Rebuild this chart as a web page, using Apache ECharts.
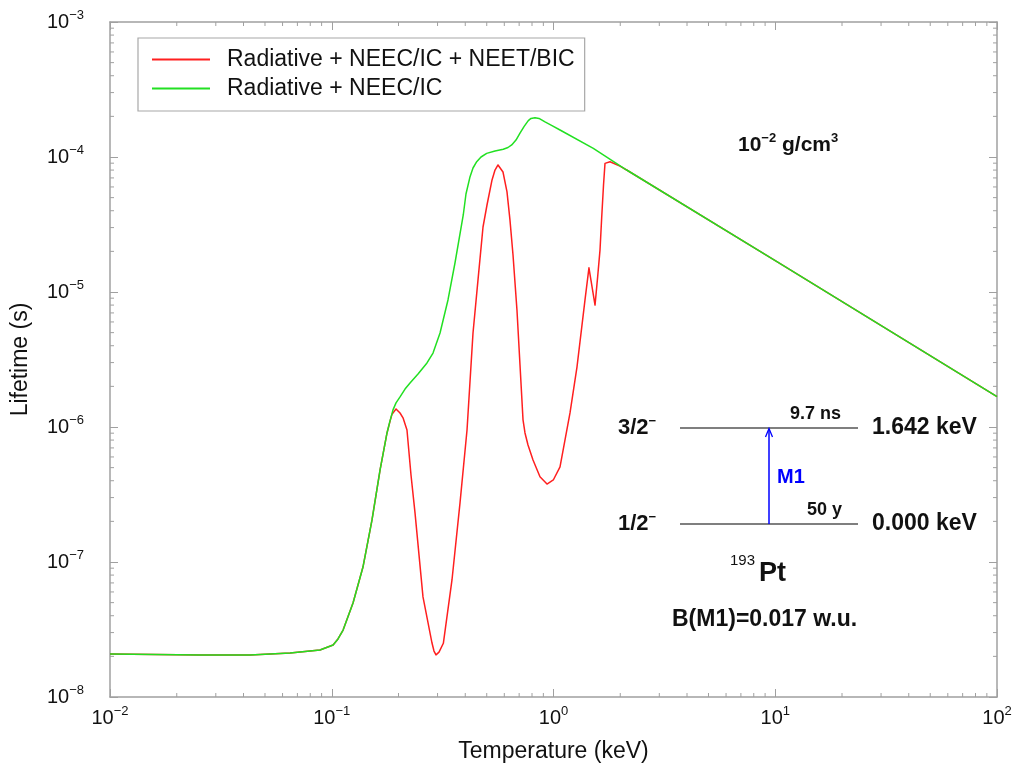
<!DOCTYPE html>
<html>
<head>
<meta charset="utf-8">
<title>193Pt lifetime vs temperature</title>
<script src="https://cdn.jsdelivr.net/npm/echarts@6/dist/echarts.min.js"></script>
<style>
  html, body { margin: 0; padding: 0; background: #fff; }
  #chart { width: 1014px; height: 767px; }
</style>
</head>
<body>
<div id="chart"></div>
<script>
// Lifetime of the 193Pt isomer at 10^-2 g/cm^3, radiative + NEEC/IC channels
const temperatureGreen = [
  0.01, 0.0255, 0.0428, 0.0649, 0.0885, 0.1014, 0.1067, 0.1125, 0.1247, 0.1383,
  0.1519, 0.1651, 0.1775, 0.1831, 0.1889, 0.1949, 0.2032, 0.2140, 0.2254, 0.2449,
  0.2688, 0.2862, 0.3078, 0.3343, 0.3595, 0.3918, 0.4030, 0.4204, 0.4335, 0.4505,
  0.4711, 0.4997, 0.5448, 0.5937, 0.6234, 0.6479, 0.6773, 0.7062, 0.7362, 0.7697,
  0.7915, 0.8253, 0.8603, 0.9157, 0.9845, 1.070, 1.512, 2.138, 10, 100
];
const lifetimeGreen = [
  2.08e-8, 2.05e-8, 2.05e-8, 2.12e-8, 2.23e-8, 2.43e-8, 2.69e-8, 3.13e-8, 4.97e-8, 9.18e-8,
  2.05e-7, 4.80e-7, 9.03e-7, 1.11e-6, 1.34e-6, 1.51e-6, 1.67e-6, 1.91e-6, 2.12e-6, 2.47e-6,
  2.98e-6, 3.53e-6, 4.97e-6, 8.73e-6, 1.64e-5, 3.72e-5, 5.32e-5, 7.15e-5, 8.29e-5, 9.23e-5,
  1.0e-4, 1.064e-4, 1.108e-4, 1.14e-4, 1.176e-4, 1.228e-4, 1.336e-4, 1.50e-4, 1.68e-4, 1.86e-4,
  1.93e-4, 1.955e-4, 1.93e-4, 1.82e-4, 1.71e-4, 1.585e-4, 1.159e-4, 8.01e-5, 1.71e-5, 1.68e-6
];

// Same, with the NEET/BIC channel added
const temperatureRed = [
  0.01, 0.0255, 0.0428, 0.0649, 0.0885, 0.1014, 0.1067, 0.1125, 0.1247, 0.1383,
  0.1519, 0.1651, 0.1775, 0.1831, 0.1869, 0.1949, 0.2032, 0.2096, 0.2184, 0.2277,
  0.2374, 0.2579, 0.2832, 0.2891, 0.2952, 0.3046, 0.3186, 0.3485, 0.3788, 0.4074,
  0.4335, 0.4566, 0.4810, 0.5013, 0.5282, 0.5448, 0.5620, 0.5737, 0.5919, 0.617,
  0.6364, 0.6568, 0.6843, 0.7062, 0.7287, 0.7438, 0.7674, 0.8084, 0.869, 0.9348,
  0.998, 1.070, 1.187, 1.276, 1.387, 1.445, 1.491, 1.539, 1.582, 1.621,
  1.649, 1.681, 1.707, 1.798, 1.994, 2.138, 10, 100
];
const lifetimeRed = [
  2.08e-8, 2.05e-8, 2.05e-8, 2.12e-8, 2.23e-8, 2.43e-8, 2.69e-8, 3.13e-8, 4.97e-8, 9.18e-8,
  2.05e-7, 4.80e-7, 9.03e-7, 1.10e-6, 1.24e-6, 1.36e-6, 1.27e-6, 1.17e-6, 9.5e-7, 4.41e-7,
  2.31e-7, 5.51e-8, 2.51e-8, 2.19e-8, 2.05e-8, 2.15e-8, 2.50e-8, 7.36e-8, 2.74e-7, 9.5e-7,
  4.97e-6, 1.23e-5, 3.03e-5, 4.41e-5, 6.76e-5, 8.01e-5, 8.73e-5, 8.57e-5, 7.74e-5, 5.51e-5,
  3.41e-5, 1.88e-5, 7.36e-6, 2.88e-6, 1.13e-6, 9.03e-7, 7.36e-7, 5.70e-7, 4.28e-7, 3.78e-7,
  4.05e-7, 5.06e-7, 1.27e-6, 2.78e-6, 8.73e-6, 1.51e-5, 1.10e-5, 8.0e-6, 1.30e-5, 2.05e-5,
  3.53e-5, 6.21e-5, 8.97e-5, 9.23e-5, 8.55e-5, 8.01e-5, 1.71e-5, 1.68e-6
];

const seriesNames = ['Radiative + NEEC/IC + NEET/BIC', 'Radiative + NEEC/IC'];
const seriesColors = ['#ff1f1f', '#22e022'];

const X_MIN = 1e-2, X_MAX = 1e2;
const Y_MIN = 1e-8, Y_MAX = 1e-3;
const FONT = "'Liberation Sans', Arial, Helvetica, sans-serif";
const FRAME = '#a0a0a0';

function zip(xs, ys) { return xs.map((x, i) => [x, ys[i]]); }

// minor tick values 2..9 within every decade of an axis range
function minorValues(lo, hi) {
  const out = [];
  for (let e = Math.round(Math.log10(lo)); e < Math.round(Math.log10(hi)); e++) {
    for (let k = 2; k <= 9; k++) out.push(k * Math.pow(10, e));
  }
  return out;
}

function powerLabel(v) {
  const e = Math.round(Math.log10(v));
  const exp = e < 0 ? '\u2212' + (-e) : String(e);
  return '{b|10}{e|' + exp + '}';
}

const labelRich = {
  b: { fontFamily: FONT, fontSize: 20, color: '#111' },
  e: { fontFamily: FONT, fontSize: 13, color: '#111', padding: [0, 0, 13, 0] }
};

const tickStyle = { stroke: FRAME, lineWidth: 1 };

function minorTickX(params, api) {
  const v = api.value(0);
  const b = api.coord([v, Y_MIN]);
  const t = api.coord([v, Y_MAX]);
  return {
    type: 'group',
    children: [
      { type: 'line', shape: { x1: b[0], y1: b[1], x2: b[0], y2: b[1] - 4 }, style: tickStyle },
      { type: 'line', shape: { x1: t[0], y1: t[1], x2: t[0], y2: t[1] + 4 }, style: tickStyle }
    ]
  };
}
function minorTickY(params, api) {
  const v = api.value(1);
  const l = api.coord([X_MIN, v]);
  const r = api.coord([X_MAX, v]);
  return {
    type: 'group',
    children: [
      { type: 'line', shape: { x1: l[0], y1: l[1], x2: l[0] + 4, y2: l[1] }, style: tickStyle },
      { type: 'line', shape: { x1: r[0], y1: r[1], x2: r[0] - 4, y2: r[1] }, style: tickStyle }
    ]
  };
}

function logAxis(extra) {
  return Object.assign({
    type: 'log',
    logBase: 10,
    axisLine: { show: true, onZero: false, lineStyle: { color: FRAME, width: 1.5 } },
    axisTick: { show: true, inside: true, length: 8, lineStyle: { color: FRAME, width: 1 } },
    minorTick: { show: false },
    splitLine: { show: false },
    minorSplitLine: { show: false }
  }, extra);
}

const boldText = (text, x, y, size, color) => ({
  type: 'text', x: x, y: y, silent: true,
  style: {
    text: text, fill: color || '#111', align: 'left', verticalAlign: 'middle',
    fontFamily: FONT, fontSize: size, fontWeight: 'bold'
  }
});

const supRich = (size) => ({
  t: { fontFamily: FONT, fontSize: size, fontWeight: 'bold', fill: '#111', color: '#111' },
  s: { fontFamily: FONT, fontSize: 13, fontWeight: 'bold', fill: '#111', color: '#111', padding: [0, 0, 14, 0] }
});

const richText = (text, x, y, size) => ({
  type: 'text', x: x, y: y, silent: true,
  style: {
    text: text, align: 'left', verticalAlign: 'middle',
    fontFamily: FONT, fontSize: size, fontWeight: 'bold', fill: '#111',
    rich: supRich(size)
  }
});

const levelLine = (y) => ({
  type: 'line', silent: true,
  shape: { x1: 680, y1: y, x2: 858, y2: y },
  style: { stroke: '#555', lineWidth: 1.5 }
});

const chart = echarts.init(document.getElementById('chart'), null, { renderer: 'canvas' });

chart.setOption({
  backgroundColor: '#ffffff',
  animation: false,
  textStyle: { fontFamily: FONT },
  grid: {
    left: 110, right: 17, top: 22, bottom: 70,
    containLabel: false, outerBoundsMode: 'none'
  },
  legend: {
    left: 138, top: 38,
    orient: 'vertical',
    data: seriesNames,
    icon: 'rect',
    itemWidth: 58, itemHeight: 2, itemGap: 0,
    padding: [7, 10, 8, 14],
    borderColor: '#a8a8a8', borderWidth: 1.2,
    backgroundColor: '#ffffff',
    selectedMode: false,
    itemStyle: { borderWidth: 0 },
    textStyle: { fontFamily: FONT, fontSize: 23, color: '#111', lineHeight: 29, padding: [0, 0, 0, 12] }
  },
  xAxis: [
    logAxis({
      position: 'bottom', min: X_MIN, max: X_MAX,
      name: 'Temperature (keV)', nameLocation: 'middle', nameGap: 43,
      nameTextStyle: { fontFamily: FONT, fontSize: 23, color: '#111' },
      axisLabel: { show: true, margin: 8, formatter: powerLabel, rich: labelRich, showMinLabel: true, showMaxLabel: true, hideOverlap: false }
    }),
    logAxis({ position: 'top', min: X_MIN, max: X_MAX, axisLabel: { show: false } })
  ],
  yAxis: [
    logAxis({
      position: 'left', min: Y_MIN, max: Y_MAX,
      name: 'Lifetime (s)', nameLocation: 'middle', nameGap: 78, nameRotate: 90,
      nameTextStyle: { fontFamily: FONT, fontSize: 23, color: '#111' },
      axisLabel: { show: true, margin: 26, formatter: powerLabel, rich: labelRich, showMinLabel: true, showMaxLabel: true, hideOverlap: false }
    }),
    logAxis({ position: 'right', min: Y_MIN, max: Y_MAX, axisLabel: { show: false } })
  ],
  series: [
    {
      name: seriesNames[0], type: 'line', xAxisIndex: 0, yAxisIndex: 0,
      data: zip(temperatureRed, lifetimeRed),
      symbol: 'none', smooth: false,
      lineStyle: { color: seriesColors[0], width: 1.5, join: 'round' },
      itemStyle: { color: seriesColors[0] },
      z: 3
    },
    {
      name: seriesNames[1], type: 'line', xAxisIndex: 0, yAxisIndex: 0,
      data: zip(temperatureGreen, lifetimeGreen),
      symbol: 'none', smooth: false,
      lineStyle: { color: seriesColors[1], width: 1.5, join: 'round' },
      itemStyle: { color: seriesColors[1] },
      z: 4
    },
    {
      type: 'custom', xAxisIndex: 0, yAxisIndex: 0, silent: true, clip: false,
      renderItem: minorTickX,
      data: minorValues(X_MIN, X_MAX).map(v => [v, Y_MIN])
    },
    {
      type: 'custom', xAxisIndex: 0, yAxisIndex: 0, silent: true, clip: false,
      renderItem: minorTickY,
      data: minorValues(Y_MIN, Y_MAX).map(v => [X_MIN, v])
    }
  ],
  graphic: [
    richText('{t|10}{s|\u22122}{t| g/cm}{s|3}', 738, 145, 21),
    levelLine(428),
    levelLine(524),
    {
      type: 'line', silent: true,
      shape: { x1: 769, y1: 524, x2: 769, y2: 429 },
      style: { stroke: '#0000ff', lineWidth: 1.5 }
    },
    {
      type: 'polyline', silent: true,
      shape: { points: [[765.5, 437], [769, 428.5], [772.5, 437]] },
      style: { stroke: '#0000ff', lineWidth: 1.3, fill: null }
    },
    richText('{t|3/2}{s|\u2212}', 618, 428, 22),
    richText('{t|1/2}{s|\u2212}', 618, 524, 22),
    boldText('1.642 keV', 872, 428, 23),
    boldText('0.000 keV', 872, 524, 23),
    boldText('9.7 ns', 790, 414, 18),
    boldText('50 y', 807, 510, 18),
    boldText('M1', 777, 477, 20, '#0000ff'),
    {
      type: 'text', x: 730, y: 561, silent: true,
      style: { text: '193', align: 'left', verticalAlign: 'middle', fontFamily: FONT, fontSize: 15, fill: '#111' }
    },
    boldText('Pt', 759, 574, 27),
    boldText('B(M1)=0.017 w.u.', 672, 620, 23)
  ]
});
</script>
</body>
</html>
